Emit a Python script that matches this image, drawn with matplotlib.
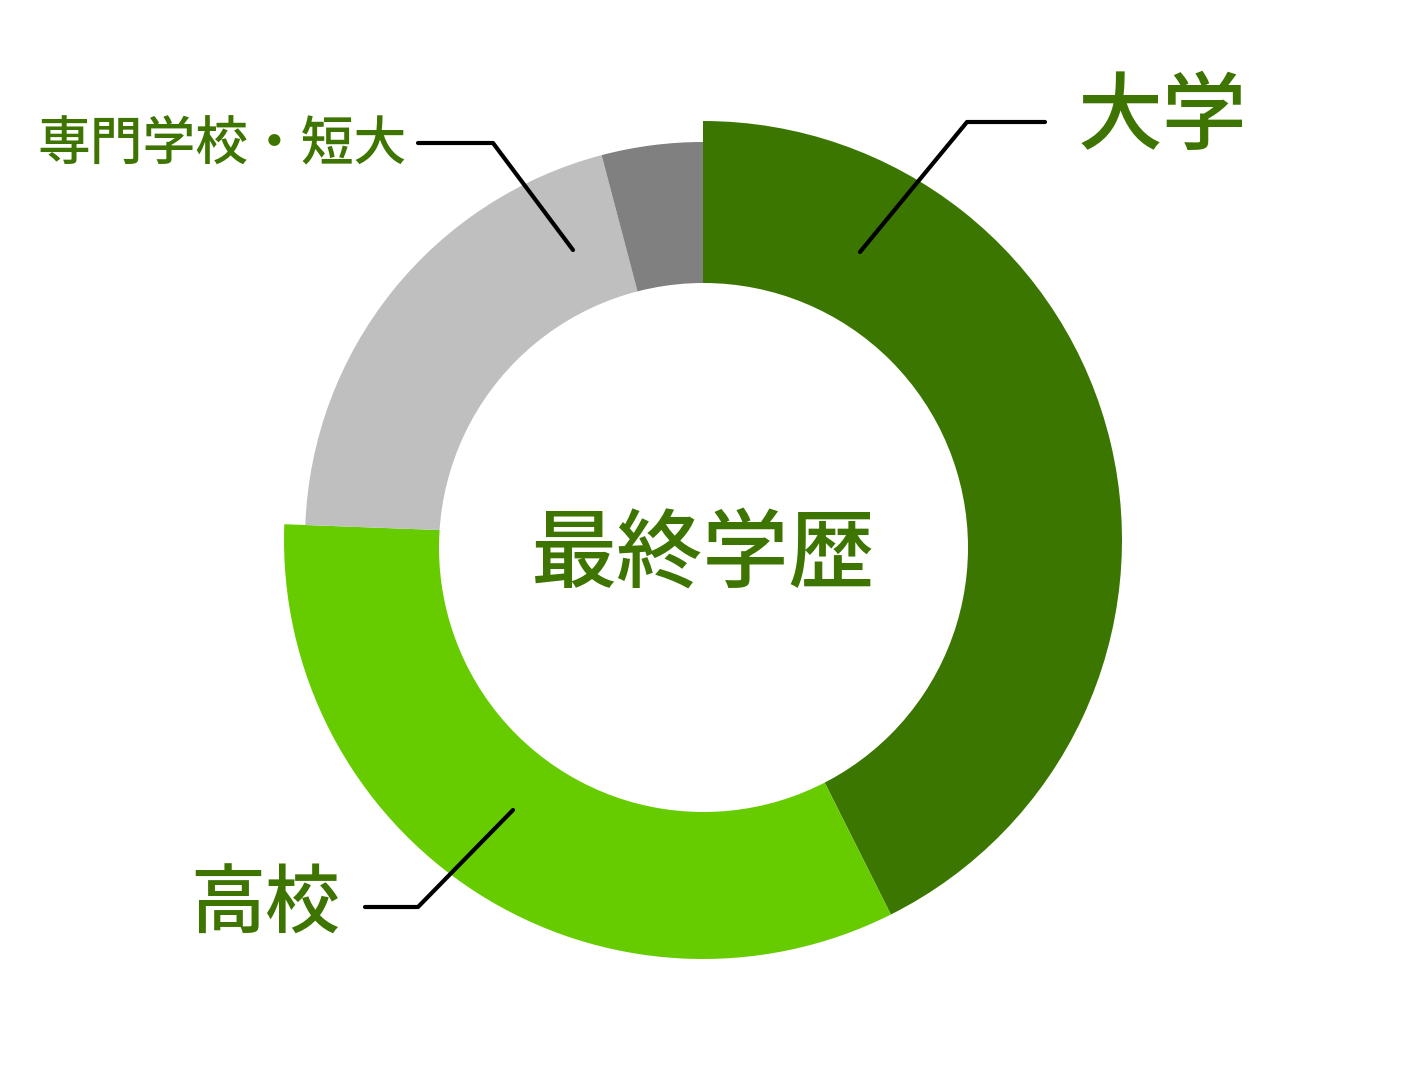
import matplotlib.pyplot as plt
from matplotlib.patches import Circle

plt.rcParams['font.family'] = ['Noto Sans CJK JP', 'DejaVu Sans']

labels = ["大学", "高校", "専門学校・短大", "その他"]
shares = [42.6, 33.0, 20.3, 4.1]
colors = ["#3b7600", "#66cc00", "#bfbfbf", "#808080"]
text_color = "#3d7500"

W, H = 1401, 1071
cx, cy = 703, H - 540
outer, small_outer = 419, 398
hole_x, hole_y, hole_r = 703.5, H - 547.5, 264.5

fig = plt.figure(figsize=(W / 100, H / 100), dpi=100)
ax = fig.add_axes([0, 0, 1, 1])

wedges, _ = ax.pie(shares, colors=colors, startangle=90, counterclock=False,
                   center=(cx, cy), radius=outer, frame=True,
                   wedgeprops=dict(linewidth=0))
# the grey slices sit a bit inside the green ones
for w in wedges[2:]:
    w.set_radius(small_outer)
ax.add_patch(Circle((hole_x, hole_y), hole_r, facecolor="white", lw=0))
ax.set_xlim(0, W)
ax.set_ylim(0, H)
ax.set_aspect("equal")
ax.axis("off")

ax.text(cx, H - 556, "最終学歴", ha="center", va="center", fontsize=62,
        fontweight="medium", color=text_color)

line = dict(color="black", lw=3, solid_capstyle="round")
ax.plot([860, 967, 1045], [H - 252, H - 122, H - 122], **line)
ax.text(1162, H - 119, labels[0], ha="center", va="center", fontsize=61,
        fontweight="medium", color=text_color)

ax.plot([418, 493, 573], [H - 143, H - 143, H - 250], **line)
ax.text(222, H - 145, labels[2], ha="center", va="center", fontsize=38,
        fontweight="medium", color=text_color)

ax.plot([365, 418, 513], [H - 907, H - 907, H - 810], **line)
ax.text(265, H - 907, labels[1], ha="center", va="center", fontsize=54,
        fontweight="medium", color=text_color)

fig.savefig("out.png", dpi=100, facecolor="white")
